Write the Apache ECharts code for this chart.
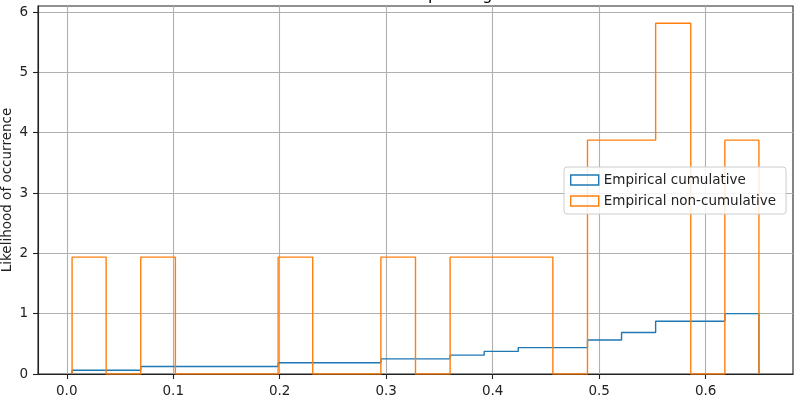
<!DOCTYPE html>
<html><head><meta charset="utf-8">
<script src="https://cdn.jsdelivr.net/npm/echarts@6/dist/echarts.min.js"></script>
<style>html,body{margin:0;padding:0;background:#fff}#c{width:800px;height:400px}</style>
</head><body><div id="c"></div>
<script>
const titleText = 'Cumulative step histograms';
const yAxisName = 'Likelihood of occurrence';
const seriesNames = ['Empirical cumulative', 'Empirical non-cumulative'];
const binEdges = [0.005, 0.037, 0.0695, 0.102, 0.134, 0.166, 0.1985, 0.231, 0.263, 0.295, 0.3275,
                  0.360, 0.392, 0.424, 0.4565, 0.489, 0.521, 0.553, 0.586, 0.618, 0.650];
const cumulativeValues = [0.0625, 0.0625, 0.125, 0.125, 0.125, 0.125, 0.1875, 0.1875, 0.1875, 0.25,
                          0.25, 0.3125, 0.375, 0.4375, 0.4375, 0.5625, 0.6875, 0.875, 0.875, 1.0];
const nonCumulativeValues = [1.938, 0, 1.938, 0, 0, 0, 1.938, 0, 0, 1.938,
                             0, 1.938, 1.938, 1.938, 0, 3.876, 3.876, 5.814, 0, 3.876];
const xTicks = [0.0, 0.1, 0.2, 0.3, 0.4, 0.5, 0.6];
const yTicks = [0, 1, 2, 3, 4, 5, 6];
const xRange = [-0.027, 0.682];
const yRange = [0, 6.10];

function stepOutline(edges, vals) {
  const pts = [[edges[0], 0]];
  for (let k = 0; k < vals.length; k++) {
    pts.push([edges[k], vals[k]]);
    pts.push([edges[k + 1], vals[k]]);
  }
  pts.push([edges[edges.length - 1], 0]);
  return pts;
}

const colors = ['#1f77b4', '#ff7f0e'];
const font = 'DejaVu Sans';
const chart = echarts.init(document.getElementById('c'), null, {renderer: 'canvas'});
chart.setOption({
  animation: false,
  backgroundColor: '#fff',
  title: {
    text: titleText, left: 415, top: -17, textAlign: 'center',
    textStyle: {fontFamily: font, fontSize: 16, fontWeight: 'normal', color: '#000'}
  },
  grid: {left: 38, right: 7, top: 6, bottom: 26, outerBoundsMode: 'none', containLabel: false,
         show: true, borderColor: '#222', borderWidth: 1.1, backgroundColor: 'transparent'},
  legend: {
    orient: 'vertical', left: 564, top: 167,
    backgroundColor: 'rgba(255,255,255,0.85)', borderColor: '#cccccc', borderWidth: 1, borderRadius: 3,
    padding: [6, 10, 6, 6], itemWidth: 28, itemHeight: 10, itemGap: 7,
    textStyle: {fontFamily: font, fontSize: 13.5, color: '#222'},
    data: seriesNames.map((n, i) => ({name: n, icon: 'rect', itemStyle: {color: 'rgba(0,0,0,0)', borderColor: colors[i], borderWidth: 1.4}}))
  },
  xAxis: {
    type: 'value', min: xRange[0], max: xRange[1], splitNumber: 7, minInterval: 0.1, maxInterval: 0.1,
    axisLine: {show: true, onZero: false, lineStyle: {color: '#222', width: 1.1}},
    axisTick: {show: true, length: 5, customValues: xTicks, lineStyle: {color: '#222', width: 1.1}},
    axisLabel: {margin: 10, fontFamily: font, fontSize: 13.5, color: '#222', customValues: xTicks,
      formatter: v => v.toFixed(1)},
    splitLine: {show: true, lineStyle: {color: '#b0b0b0', width: 1.1}}
  },
  yAxis: {
    type: 'value', min: yRange[0], max: yRange[1], interval: 1,
    name: yAxisName, nameLocation: 'middle', nameGap: 24, nameMoveOverlap: false,
    nameTextStyle: {fontFamily: font, fontSize: 13.5, color: '#222'},
    axisLine: {show: true, onZero: false, lineStyle: {color: '#222', width: 1.1}},
    axisTick: {show: true, length: 5, customValues: yTicks, lineStyle: {color: '#222', width: 1.1}},
    axisLabel: {margin: 10, fontFamily: font, fontSize: 13.5, color: '#222', customValues: yTicks,
      formatter: v => String(Math.round(v))},
    splitLine: {show: true, lineStyle: {color: '#b0b0b0', width: 1.1}}
  },
  series: [
    {name: seriesNames[0], type: 'line', data: stepOutline(binEdges, cumulativeValues), showSymbol: false, symbol: 'none',
     lineStyle: {color: colors[0], width: 1.4}, itemStyle: {color: colors[0]}, z: 2},
    {name: seriesNames[1], type: 'line', data: stepOutline(binEdges, nonCumulativeValues), showSymbol: false, symbol: 'none',
     lineStyle: {color: colors[1], width: 1.4}, itemStyle: {color: colors[1]}, z: 3}
  ]
});
</script></body></html>
